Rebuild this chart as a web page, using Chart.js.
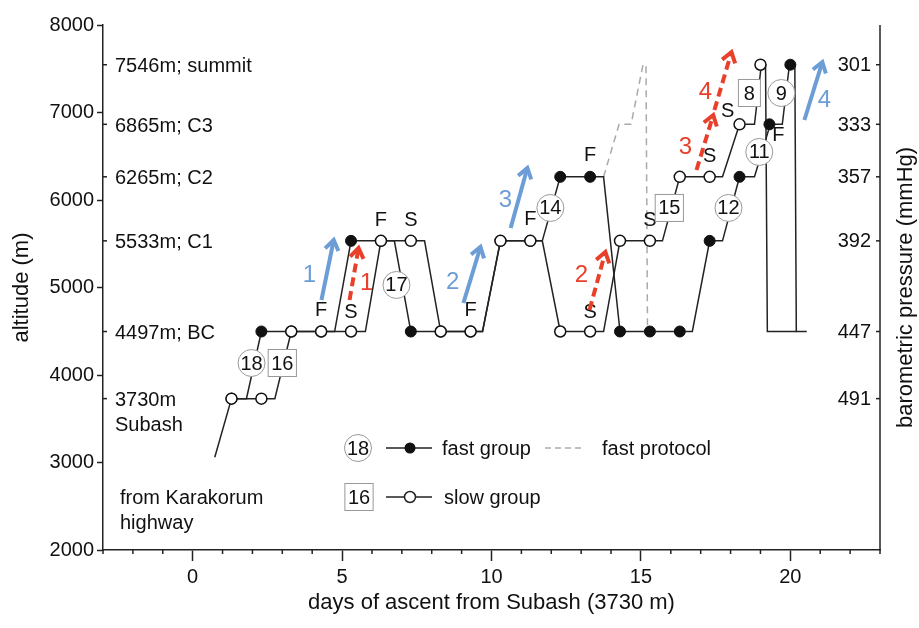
<!DOCTYPE html>
<html>
<head>
<meta charset="utf-8">
<script src="https://cdn.jsdelivr.net/npm/chart.js@4.4.1/dist/chart.umd.min.js"></script>
<style>
  html, body { margin: 0; padding: 0; background: #fff; }
</style>
</head>
<body>
<canvas id="chart" width="919" height="628"></canvas>
<script>
// daily measurement points (marker positions)
const fastDays = [1.3, 2.3, 3.3, 4.3, 5.3, 6.3, 7.3, 8.3, 9.3, 10.3, 11.3, 12.3, 13.3, 14.3, 15.3, 16.3, 17.3, 18.3, 19.3, 20.0]
const fastAlt  = [3730, 4497, 4497, 4497, 5533, 5533, 4497, 4497, 4497, 5533, 5533, 6265, 6265, 4497, 4497, 4497, 5533, 6265, 6865, 7546]
const slowDays = [1.3, 2.3, 3.3, 4.3, 5.3, 6.3, 7.3, 8.3, 9.3, 10.3, 11.3, 12.3, 13.3, 14.3, 15.3, 16.3, 17.3, 18.3, 19.0]
const slowAlt  = [3730, 3730, 4497, 4497, 4497, 5533, 5533, 4497, 4497, 5533, 5533, 4497, 4497, 5533, 5533, 6265, 6265, 6865, 7546]

// full walking paths, with the corners where the groups left camp
const fastPathDays = [1.3, 1.8, 2.3, 4.3, 4.75, 5.3, 6.3, 6.75, 7.3, 9.3, 9.7, 10.3, 11.3, 11.7, 12.3, 13.3, 13.75, 14.3, 16.3, 16.72, 17.3, 17.73, 18.3, 18.8, 19.33, 19.73, 19.97, 20.15, 20.2, 20.55]
const fastPathAlt  = [3730, 3730, 4497, 4497, 4497, 5533, 5533, 5533, 4497, 4497, 4497, 5533, 5533, 5533, 6265, 6265, 6265, 4497, 4497, 4497, 5533, 5533, 6265, 6265, 6865, 6865, 7546, 7546, 4497, 4497]
const slowPathDays = [1.3, 2.3, 2.75, 3.3, 5.3, 5.78, 6.3, 7.3, 7.76, 8.3, 9.3, 9.7, 10.3, 11.3, 11.7, 12.3, 13.3, 13.75, 14.3, 15.3, 15.72, 16.3, 17.3, 17.73, 18.3, 18.8, 19.03, 19.17, 19.23, 20.2]
const slowPathAlt  = [3730, 3730, 3730, 4497, 4497, 4497, 5533, 5533, 5533, 4497, 4497, 4497, 5533, 5533, 5533, 4497, 4497, 4497, 5533, 5533, 5533, 6265, 6265, 6265, 6865, 6865, 7546, 7546, 4497, 4497]
const highwayDays = [0.74, 1.3]
const highwayAlt  = [3060, 3730]
const protoDays = [13.75, 14.27, 14.67, 15.07, 15.17, 15.22]
const protoAlt  = [6265, 6865, 6865, 7546, 7546, 4497]

// camps and pressures
const campAlt    = [7546, 6865, 6265, 5533, 4497, 3730]
const campLabels = ['7546m; summit', '6865m; C3', '6265m; C2', '5533m; C1', '4497m; BC', '3730m']
const pressure   = ['301', '333', '357', '392', '447', '491']

// group sizes
const fastCountDays = [1.97, 6.82, 11.97, 17.93, 18.96, 19.7]
const fastCountAlt  = [4137, 5029, 5909, 5909, 6549, 7223]
const fastCounts    = ['18', '17', '14', '12', '11', '9']
const slowCountDays = [3.0, 15.95, 18.63]
const slowCountAlt  = [4137, 5909, 7223]
const slowCounts    = ['16', '15', '8']

// F / S measurement letters
const letterDays = [4.3, 5.3, 6.3, 7.3, 9.3, 11.3, 13.3, 13.3, 15.3, 17.3, 17.9, 19.6]
const letterAlt  = [4743, 4720, 5771, 5771, 4743, 5783, 6514, 4720, 5771, 6503, 7006, 6743]
const letters    = ['F', 'S', 'F', 'S', 'F', 'F', 'F', 'S', 'S', 'S', 'S', 'F']

// ascent arrows: [day0, alt0, day1, alt1], label position
const blueArrows = [[4.31, 4857, 4.72, 5543], [9.06, 4823, 9.63, 5463], [10.64, 5680, 11.2, 6366], [20.47, 6914, 21.07, 7577]]
const blueLabelAt = [[3.91, 5143], [8.7, 5063], [10.47, 6000], [21.14, 7143]]
const redArrows = [[5.25, 4857, 5.55, 5451], [13.28, 4743, 13.81, 5406], [16.86, 6343, 17.42, 6971], [17.46, 7029, 18.03, 7691]]
const redLabelAt = [[5.82, 5051], [13.01, 5143], [16.49, 6606], [17.16, 7234]]

const FONT = '"Liberation Sans", Arial, sans-serif'
const BLUE = '#6c9dd6'
const RED = '#e8402a'

const pts = (xs, ys) => xs.map((d, i) => ({ x: d, y: ys[i] }))

const annotate = {
    id: 'annotate',
    afterDatasetsDraw(chart) {
        const { ctx, chartArea: a, scales: { x, y } } = chart
        const px = d => x.getPixelForValue(d)
        const py = v => y.getPixelForValue(v)
        const line = (x0, y0, x1, y1) => { ctx.beginPath(); ctx.moveTo(x0, y0); ctx.lineTo(x1, y1); ctx.stroke() }

        ctx.save()
        ctx.strokeStyle = '#222'
        ctx.fillStyle = '#111'
        ctx.lineWidth = 1.5

        // minor ticks of the day axis
        for (let d = Math.ceil(x.min); d <= x.max; d++) {
            if (d % 5 !== 0) line(px(d), a.bottom, px(d), a.bottom + 4)
        }
        // right axis line
        line(a.right, a.top, a.right, a.bottom)

        ctx.font = '20px ' + FONT
        ctx.textBaseline = 'middle'

        // camp labels on the left
        ctx.textAlign = 'left'
        campAlt.forEach((v, i) => {
            line(a.left, py(v), a.left + 4, py(v))
            ctx.fillText(campLabels[i], a.left + 12, py(v) + 2)
        })
        ctx.fillText('Subash', a.left + 12, py(3730) + 27)
        ctx.fillText('from Karakorum', a.left + 17, 498)
        ctx.fillText('highway', a.left + 17, 523)

        // pressure labels on the right
        ctx.textAlign = 'right'
        campAlt.forEach((v, i) => {
            line(a.right - 4, py(v), a.right, py(v))
            ctx.fillText(pressure[i], a.right - 9, py(v) + 1)
        })
        ctx.save()
        ctx.font = '22px ' + FONT
        ctx.textAlign = 'center'
        ctx.translate(906, (a.top + a.bottom) / 2)
        ctx.rotate(-Math.PI / 2)
        ctx.fillText('barometric pressure (mmHg)', 0, 0)
        ctx.restore()

        // F / S letters
        ctx.textAlign = 'center'
        letters.forEach((t, i) => ctx.fillText(t, px(letterDays[i]), py(letterAlt[i])))

        const circled = (cx, cy, t) => {
            ctx.beginPath(); ctx.arc(cx, cy, 13.5, 0, Math.PI * 2)
            ctx.fillStyle = '#fff'; ctx.fill()
            ctx.strokeStyle = '#999'; ctx.lineWidth = 1; ctx.stroke()
            ctx.fillStyle = '#111'; ctx.fillText(t, cx, cy + 1)
        }
        const boxed = (cx, cy, t) => {
            const w = Math.max(ctx.measureText(t).width + 6, 22), h = 27
            ctx.fillStyle = '#fff'; ctx.fillRect(cx - w / 2, cy - h / 2, w, h)
            ctx.strokeStyle = '#999'; ctx.lineWidth = 1; ctx.strokeRect(cx - w / 2, cy - h / 2, w, h)
            ctx.fillStyle = '#111'; ctx.fillText(t, cx, cy + 1)
        }
        fastCounts.forEach((t, i) => circled(px(fastCountDays[i]), py(fastCountAlt[i]), t))
        slowCounts.forEach((t, i) => boxed(px(slowCountDays[i]), py(slowCountAlt[i]), t))

        // arrows
        const arrow = (r, color, dash) => {
            const x0 = px(r[0]), y0 = py(r[1]), x1 = px(r[2]), y1 = py(r[3])
            ctx.strokeStyle = color; ctx.lineWidth = 4; ctx.lineCap = 'butt'
            ctx.setLineDash(dash)
            line(x0, y0, x1, y1)
            ctx.setLineDash([])
            const ang = Math.atan2(y1 - y0, x1 - x0), h = 12
            ctx.lineJoin = 'miter'
            ctx.beginPath()
            ctx.moveTo(x1 - h * Math.cos(ang - 0.6), y1 - h * Math.sin(ang - 0.6))
            ctx.lineTo(x1, y1)
            ctx.lineTo(x1 - h * Math.cos(ang + 0.6), y1 - h * Math.sin(ang + 0.6))
            ctx.stroke()
        }
        ctx.font = '24px ' + FONT
        blueArrows.forEach((r, i) => {
            arrow(r, BLUE, [])
            ctx.fillStyle = BLUE
            ctx.fillText(String(i + 1), px(blueLabelAt[i][0]), py(blueLabelAt[i][1]))
        })
        redArrows.forEach((r, i) => {
            arrow(r, RED, [9, 5])
            ctx.fillStyle = RED
            ctx.fillText(String(i + 1), px(redLabelAt[i][0]), py(redLabelAt[i][1]))
        })

        // legend
        ctx.font = '20px ' + FONT
        circled(358, 448, '18')
        boxed(359, 497, '16')
        ctx.strokeStyle = '#222'; ctx.lineWidth = 1.5
        line(386, 448, 432, 448)
        line(386, 497, 432, 497)
        ctx.beginPath(); ctx.arc(410, 448, 5.5, 0, Math.PI * 2); ctx.fillStyle = '#111'; ctx.fill()
        ctx.beginPath(); ctx.arc(410, 497, 5.5, 0, Math.PI * 2); ctx.fillStyle = '#fff'; ctx.fill(); ctx.stroke()
        ctx.strokeStyle = '#aaa'; ctx.setLineDash([6, 4])
        line(545, 448, 584, 448)
        ctx.setLineDash([])
        ctx.fillStyle = '#111'; ctx.textAlign = 'left'
        ctx.fillText('fast group', 442, 449)
        ctx.fillText('fast protocol', 602, 449)
        ctx.fillText('slow group', 444, 498)

        ctx.restore()
    }
}

new Chart(document.getElementById('chart'), {
    type: 'scatter',
    data: {
        datasets: [
            { data: pts(slowDays, slowAlt), showLine: false, pointRadius: 5.5, pointBackgroundColor: '#fff', pointBorderColor: '#111', pointBorderWidth: 1.5 },
            { data: pts(fastDays, fastAlt), showLine: false, pointRadius: 5.5, pointBackgroundColor: '#111', pointBorderColor: '#111', pointBorderWidth: 1 },
            { data: pts(slowPathDays, slowPathAlt), showLine: true, pointRadius: 0, borderColor: '#222', borderWidth: 1.5 },
            { data: pts(fastPathDays, fastPathAlt), showLine: true, pointRadius: 0, borderColor: '#222', borderWidth: 1.5 },
            { data: pts(protoDays, protoAlt), showLine: true, pointRadius: 0, borderColor: '#aaa', borderWidth: 1.5, borderDash: [7, 5] },
            { data: pts(highwayDays, highwayAlt), showLine: true, pointRadius: 0, borderColor: '#222', borderWidth: 1.5 }
        ]
    },
    options: {
        responsive: false,
        animation: false,
        layout: { padding: { top: 25, right: 39, left: 0, bottom: 0 } },
        plugins: { legend: { display: false }, tooltip: { enabled: false } },
        scales: {
            x: {
                type: 'linear', min: -3, max: 23,
                afterFit: s => { s.height = 78 },
                border: { display: true, color: '#222', width: 1.5 },
                grid: { drawOnChartArea: false, tickLength: 11, tickWidth: 1.5,
                    tickColor: c => (c.tick && c.tick.value % 5 === 0) ? '#222' : 'rgba(0,0,0,0)' },
                ticks: { stepSize: 1, autoSkip: false, maxRotation: 0, padding: 4, color: '#111',
                    font: { family: FONT, size: 20 },
                    callback: v => v % 5 === 0 ? String(v) : '' },
                title: { display: true, text: 'days of ascent from Subash (3730 m)', color: '#111',
                    font: { family: FONT, size: 22 }, padding: { top: 0, bottom: 12 } }
            },
            y: {
                min: 2000, max: 8000,
                afterFit: s => { s.width = 103 },
                border: { display: true, color: '#222', width: 1.5 },
                grid: { drawOnChartArea: false, tickLength: 6, tickWidth: 1.5, tickColor: '#222' },
                ticks: { stepSize: 1000, padding: 3, color: '#111', font: { family: FONT, size: 20 },
                    callback: v => String(v) },
                title: { display: true, text: 'altitude (m)', color: '#111',
                    font: { family: FONT, size: 22 }, padding: { top: 9, bottom: 0 } }
            }
        }
    },
    plugins: [annotate]
})
</script>
</body>
</html>
